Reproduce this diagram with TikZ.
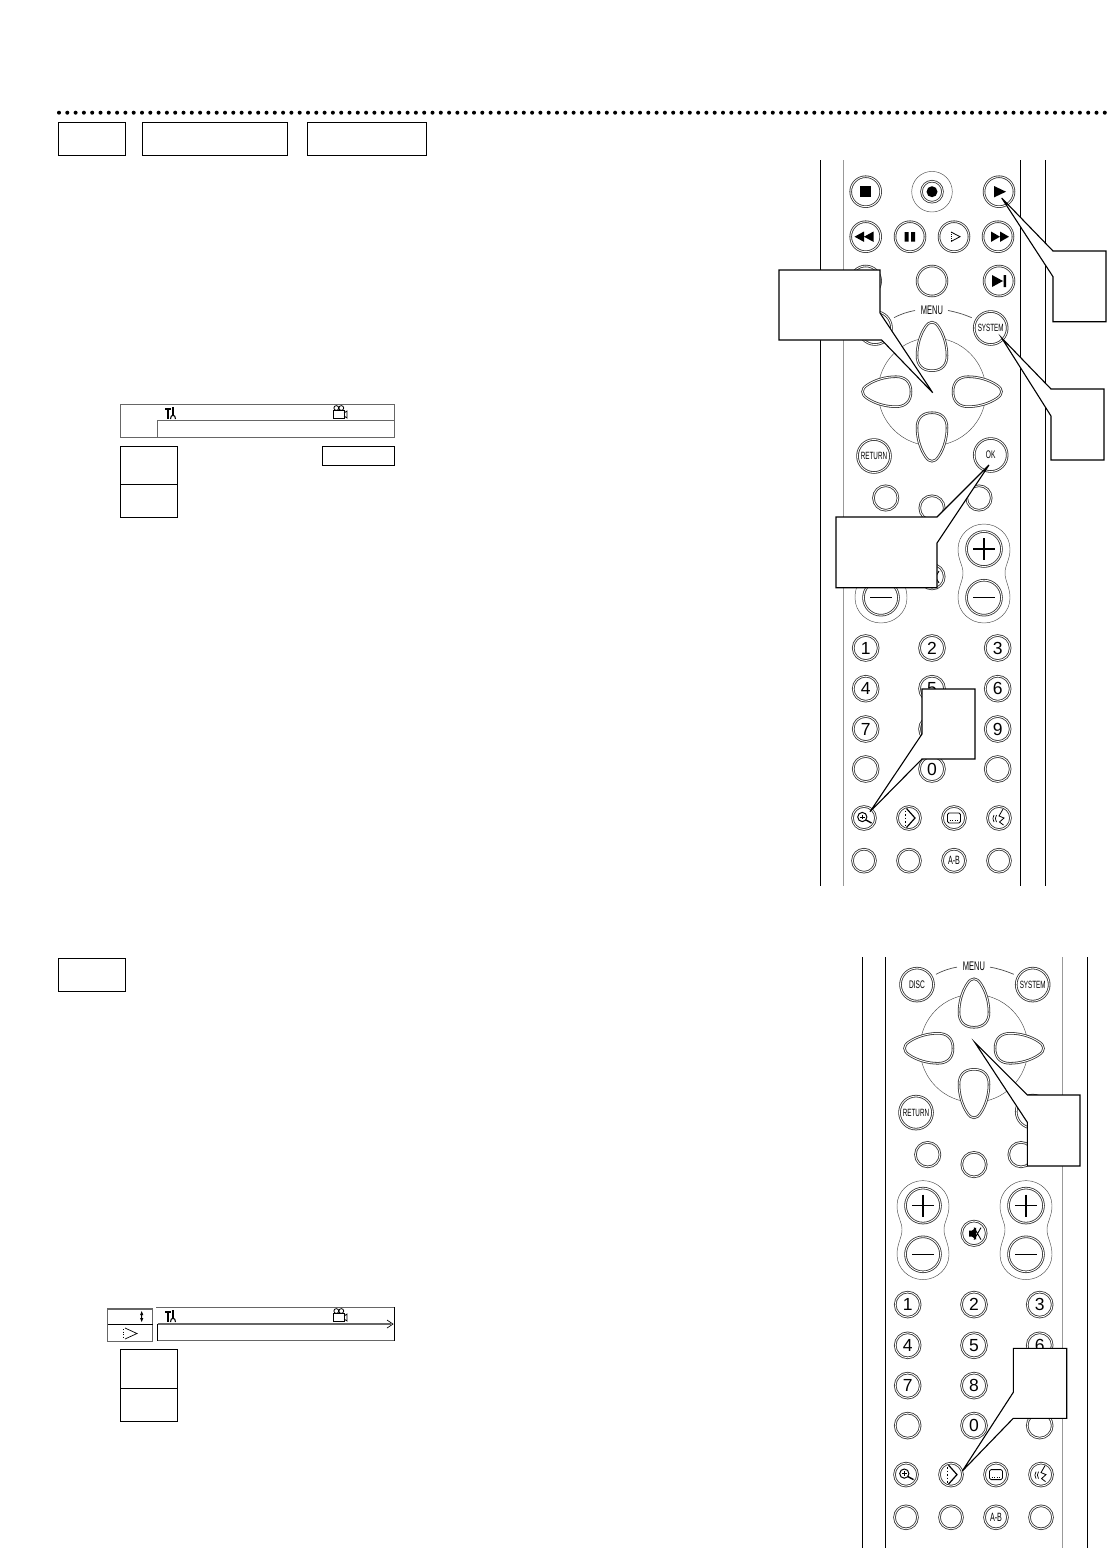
\documentclass[tikz,border=0pt]{standalone}
\usepackage{fontspec}
\setmainfont{Liberation Sans}
\newfontfamily\narrowfont[FakeStretch=.6]{Liberation Sans}
\usetikzlibrary{arrows.meta}

% keys shared by both remote pictures, in the coordinates of the upper one
\newcommand{\remotekeys}{%
  % menu keys
  \node[midkey,font=\narrowfont\fontsize{11}{10}\selectfont] (disc) at (875,328) {DISC};
  \node[midkey,font=\narrowfont\fontsize{10.5}{10}\selectfont] (system) at (990.7,328) {SYSTEM};
  \node[midkey,font=\narrowfont\fontsize{10.5}{10}\selectfont] (return) at (874,456) {RETURN};
  \node[midkey,font=\narrowfont\fontsize{11}{10}\selectfont] (ok) at (990.7,455) {OK};
  \node[font=\narrowfont\fontsize{12.5}{10}\selectfont,inner sep=1pt] (menu) at (932,310) {MENU};
  \draw[rim,line width=.7pt] (894,317.7) .. controls (901,314) and (907,312) .. (915,310.5);
  \draw[rim,line width=.7pt] (948,310.5) .. controls (956,312) and (963,314) .. (971.7,317.7);
  % direction keys
  \draw[rim] (932,391.7) circle (54);
  \foreach \a in {0,90,180,270} {
    \draw[keyline,shift={(932,391.7)},rotate=\a] (21,0) .. controls (21,-10) and (27,-15) .. (36,-15)
      .. controls (46,-15) and (57,-12) .. (65,-6.5) .. controls (71,-2.5) and (71,2.5) .. (65,6.5)
      .. controls (57,12) and (46,15) .. (36,15) .. controls (27,15) and (21,10) .. (21,0) -- cycle;
  }
  % row under the direction keys
  \node[smallkey] (pad1) at (885.7,498) {};
  \node[smallkey] (pad2) at (932,508) {};
  \node[smallkey] (pad3) at (979,498) {};
  % volume and channel
  \foreach \vx in {881,984} {
    \draw[rim,shift={(\vx,0)}] (0,524) .. controls (14,524) and (26,535) .. (26,549)
      .. controls (26,560) and (21,565) .. (21,573) .. controls (21,581) and (26,587) .. (26,598)
      .. controls (26,612) and (14,623) .. (0,623) .. controls (-14,623) and (-26,612) .. (-26,598)
      .. controls (-26,587) and (-21,581) .. (-21,573) .. controls (-21,565) and (-26,560) .. (-26,549)
      .. controls (-26,535) and (-14,524) .. (0,524) -- cycle;
    \node[volkey] (plus\vx) at (\vx,549) {};
    \node[volkey] (minus\vx) at (\vx,597.7) {};
    \draw[line width=1.1pt] (\vx-11,549) -- (\vx+11,549) (\vx,538) -- (\vx,560);
    \draw[line width=1.3pt] (\vx-11,597.7) -- (\vx+11,597.7);
  }
  \node[smallkey] (mute) at (932,576.7) {};
  \fill (927,574) rectangle (930,580) (930,574) -- (934,571) -- (934,583) -- (930,580) -- cycle;
  \draw[line width=.9pt] (932,571) -- (939,583) (939,571) -- (932,583);
  % number keys
  \foreach \n/\nx/\ny in {1/865.7/648,2/932/648,3/997.7/648,4/865.7/688.7,5/932/688.7,6/997.7/688.7,
      7/865.7/729,8/932/729,9/997.7/729,0/932/769} {
    \node[numkey,font=\fontsize{17.5}{17}\selectfont] (num\n) at (\nx,\ny) {\n};
  }
  \node[numkey] (numl) at (865.7,769) {};
  \node[numkey] (numr) at (997.7,769) {};
  % bottom rows
  \foreach \k/\kx in {1/864,2/909,3/954,4/999} {
    \node[tinykey] (fn\k) at (\kx,818) {};
    \node[tinykey] (low\k) at (\kx,860.7) {};
  }
  \node[font=\narrowfont\fontsize{12}{10}\selectfont,inner sep=0pt] (ab) at (954,860.7) {A-B};
  % zoom icon
  \draw[line width=1pt] (862.3,817) circle (4.6);
  \draw[line width=.8pt] (860,817) -- (864.6,817) (862.3,814.7) -- (862.3,819.3);
  \draw[line width=1.4pt] (866,820) -- (871.5,823);
  % slow icon
  \draw[line width=1.2pt] (906.5,808.5) -- (915,818) -- (906.5,827.5);
  \draw[line width=.8pt,dash pattern=on 1.5pt off 2pt] (905.5,810.5) -- (905.5,826);
  % subtitle icon
  \draw[line width=.8pt,rounded corners=1.5pt] (947.5,813) rectangle (960.5,823);
  \draw[line width=.9pt,dash pattern=on 1pt off 1.6pt] (949.5,820.5) -- (958.5,820.5);
  % audio icon
  \draw[line width=.7pt] (994,815) .. controls (992.5,817) and (992.5,820) .. (994,822)
    (996.5,815) .. controls (995,817) and (995,820) .. (996.5,822);
  \draw[line width=.8pt] (1003,809) -- (999,816) -- (1004,818) -- (999.5,822) -- (1003.5,825);
}
\begin{document}
\begin{tikzpicture}[x=1pt,y=-1pt,
    rim/.style={draw=black!70,line width=.45pt},
    rail/.style={line width=1pt},
    grayrail/.style={draw=black!40,line width=1.4pt},
    keyline/.style={draw=black!80,fill=white,line width=.8pt,double=white,double distance=.9pt},
    btn/.style={circle,keyline,inner sep=0pt},
    topkey/.style={btn,minimum size=30pt},
    midkey/.style={btn,minimum size=33pt},
    volkey/.style={btn,minimum size=35pt},
    smallkey/.style={btn,minimum size=24.5pt},
    numkey/.style={btn,minimum size=25pt},
    tinykey/.style={btn,minimum size=23pt},
    tabbox/.style={draw,line width=.9pt},
    menuline/.style={draw=black!60,line width=.9pt},
    callout/.style={draw=black,fill=white,line width=1.1pt}]
  \useasboundingbox (0,0) rectangle (1108,1548);
  % Dotted rule and tabs
  \draw[line width=4pt,line cap=round,dash pattern=on 0pt off 8.3pt] (59,112.7) -- (1108,112.7);
  \draw[tabbox] (58.3,122.3) rectangle (125.7,155.3);
  \draw[tabbox] (142.3,122.3) rectangle (287.7,155.3);
  \draw[tabbox] (307.3,122.3) rectangle (426.7,155.3);
  \draw[tabbox] (58.3,958) rectangle (125.7,991);
  % Upper menu strip
  \draw[menuline] (120.5,404) rectangle (394,437);
  \draw[menuline] (157.3,437) |- (394,420.7);
  \draw[tabbox] (120.5,446.7) rectangle (177.5,484.3);
  \draw[tabbox] (120.5,484.3) rectangle (177.5,517.7);
  \draw[tabbox] (322.3,446.7) rectangle (394,465.3);
  % Lower menu strip
  \draw[draw=black!60,line width=1.3pt] (107.7,1309) rectangle (152.7,1341.7);
  \draw[line width=.8pt] (107.7,1324.3) -- (152.7,1324.3);
  \fill (141.7,1311) -- (143.3,1315) -- (142.2,1315) -- (142.2,1318) -- (143.3,1318) -- (141.7,1322) -- (140.1,1318) -- (141.2,1318) -- (141.2,1315) -- (140.1,1315) -- cycle;
  \draw[line width=.7pt] (125,1328) -- (137,1333.5) -- (125,1339);
  \draw[line width=.7pt,dash pattern=on 1pt off 1.5pt] (123.5,1329) -- (123.5,1338);
  \draw[menuline] (156,1307.3) -- (394,1307.3);
  \draw[line width=.9pt] (394,1307.3) -- (394,1340.7);
  \draw[menuline] (157.5,1340.7) -- (394,1340.7);
  \draw[line width=.9pt] (157.5,1340.7) -- (157.5,1324);
  \draw[draw=black!60,line width=1.3pt] (157.5,1324) -- (391,1324);
  \draw[line width=.7pt] (387,1320) -- (393,1324) -- (387,1328);
  \draw[tabbox] (120.5,1349.3) rectangle (177.5,1388.3);
  \draw[tabbox] (120.5,1388.3) rectangle (177.5,1421.7);
  % Tool and camera icons of both strips
  \foreach \iy in {413,1316} {
    \draw[line width=1.1pt] (168,\iy+6) -- (168,\iy-4);
    \fill (165,\iy-3) -- (165,\iy-5) -- (171,\iy-5) -- (171,\iy-3) -- cycle;
    \draw[line width=1.1pt] (173,\iy-6) -- (173,\iy+2);
    \draw[line width=1.1pt] (170.5,\iy+6) .. controls (170.5,\iy+1) and (175.5,\iy+1) .. (175.5,\iy+6);
    \draw[line width=.8pt] (333.5,\iy-3) rectangle (344,\iy+5);
    \draw[line width=.8pt] (336.3,\iy-5) circle (2.4) (341.3,\iy-5) circle (2.4);
    \draw[line width=.8pt] (344,\iy) -- (347,\iy-2) -- (347,\iy+5) -- (344,\iy+3);
  }
  % Upper remote
  \draw[rail] (820,160) -- (820,886) (1020.7,160) -- (1020.7,886) (1045,160) -- (1045,886);
  \draw[grayrail] (843.3,160) -- (843.3,886);
  \begin{scope}[name prefix=up-]
    \remotekeys
    \node[topkey] (stop) at (865.7,191.7) {};
    \fill (860,186) rectangle (871.4,197.4);
    \draw[rim] (932,191.7) circle (20.3);
    \node[btn,minimum size=21pt] (rec) at (932,191.7) {};
    \fill (932,191.7) circle (5.5);
    \node[topkey] (play) at (999,191.7) {};
    \fill (994,186) -- (1006,191.7) -- (994,197.4) -- cycle;
    \node[topkey] (rew) at (865.7,236.7) {};
    \fill (854.5,236.7) -- (864,231.5) -- (864,241.9) -- cycle (864,236.7) -- (873.5,231.5) -- (873.5,241.9) -- cycle;
    \node[topkey] (pause) at (910,236.7) {};
    \fill (904.5,232) rectangle (908.5,241.5) (911,232) rectangle (915,241.5);
    \node[topkey] (slow) at (954,236.7) {};
    \draw[line width=.8pt] (951,232) -- (960,236.7) -- (951,241.5);
    \draw[line width=.8pt,dash pattern=on 1pt off 1pt] (951,232) -- (951,241.5);
    \node[topkey] (ffwd) at (998,236.7) {};
    \fill (991,231.5) -- (1000,236.7) -- (991,241.9) -- cycle (1000,231.5) -- (1009,236.7) -- (1000,241.9) -- cycle;
    \node[topkey] (prev) at (865.7,281) {};
    \node[topkey] (blank) at (932,281) {};
    \node[topkey] (next) at (999,281) {};
    \fill (992,275) -- (1003,281) -- (992,287) -- cycle (1003.5,275) rectangle (1006,287);
  \end{scope}
  % Lower remote
  \draw[rail] (862.3,957) -- (862.3,1548) (885.7,957) -- (885.7,1548) (1087.7,957) -- (1087.7,1548);
  \draw[grayrail] (1062.7,957) -- (1062.7,1548);
  \begin{scope}[name prefix=low-,shift={(42,656.6)}]
    \remotekeys
  \end{scope}
  % Callouts
  \draw[callout] (779,270) -- (880,270) -- (880,313) -- (932.7,392.7) -- (881.7,340) -- (779,340) -- cycle;
  \draw[callout] (1001.7,198) -- (1053,251) -- (1106,251) -- (1106,321.7) -- (1053,321.7) -- (1053,276.7) -- cycle;
  \draw[callout] (1001.7,338) -- (1051,389) -- (1104,389) -- (1104,460) -- (1051,460) -- (1051,416) -- cycle;
  \draw[callout] (989,465) -- (937,517) -- (836,517) -- (836,587.7) -- (937,587.7) -- (937,543) -- cycle;
  \draw[callout] (870,811.7) -- (922,759) -- (975,759) -- (975,689) -- (922,689) -- (922,734) -- cycle;
  \draw[callout] (975,1042.7) -- (1027.3,1095) -- (1080,1095) -- (1080,1166) -- (1027.3,1166) -- (1027.3,1122.3) -- cycle;
  \draw[callout] (962.3,1471) -- (1013.3,1418.3) -- (1066.7,1418.3) -- (1066.7,1348.3) -- (1013.3,1348.3) -- (1013.3,1392.3) -- cycle;
\end{tikzpicture}
\end{document}
